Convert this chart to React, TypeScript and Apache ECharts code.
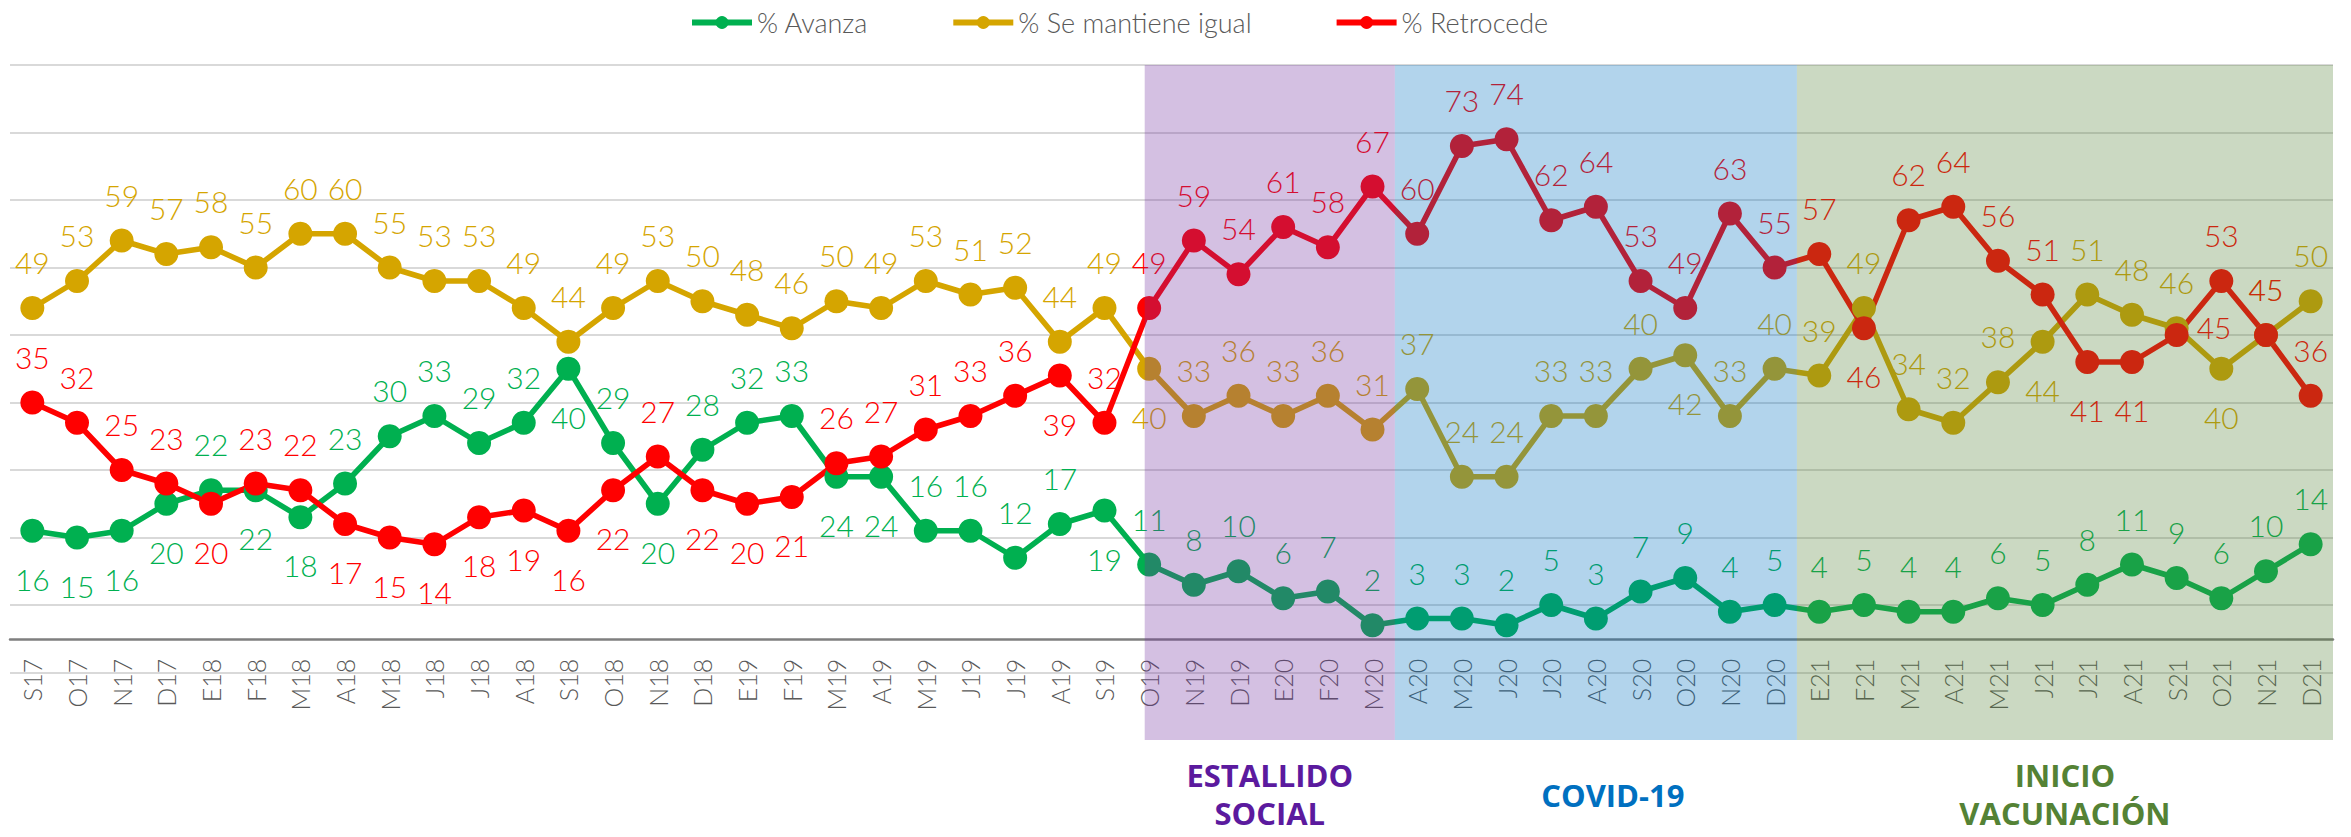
import React, { useEffect, useRef } from 'react';
import * as echarts from 'echarts';

const CATEGORIES = ['S17','O17','N17','D17','E18','F18','M18','A18','M18','J18','J18','A18','S18','O18','N18','D18','E19','F19','M19','A19','M19','J19','J19','A19','S19','O19','N19','D19','E20','F20','M20','A20','M20','J20','J20','A20','S20','O20','N20','D20','E21','F21','M21','A21','M21','J21','J21','A21','S21','O21','N21','D21'];

const AVANZA = [16,15,16,20,22,22,18,23,30,33,29,32,40,29,20,28,32,33,24,24,16,16,12,17,19,11,8,10,6,7,2,3,3,2,5,3,7,9,4,5,4,5,4,4,6,5,8,11,9,6,10,14];
const IGUAL = [49,53,59,57,58,55,60,60,55,53,53,49,44,49,53,50,48,46,50,49,53,51,52,44,49,40,33,36,33,36,31,37,24,24,33,33,40,42,33,40,39,49,34,32,38,44,51,48,46,40,45,50];
const RETROCEDE = [35,32,25,23,20,23,22,17,15,14,18,19,16,22,27,22,20,21,26,27,31,33,36,39,32,49,59,54,61,58,67,60,73,74,62,64,53,49,63,55,57,46,62,64,56,51,41,41,45,53,45,36];

// label placement per point: t = above, b = below, r = right
const AVANZA_LABEL = ('bbbbtbbtttttbtbtttbbttttb' + 'ttttttttttttttttttttttttttt').split('');
const IGUAL_LABEL = 'tttttttttttttttttttttttttbtttttttttttbtttttttbtttbtt'.split('');
const RETROCEDE_LABEL = 'ttttbttbbbbbbbtbbbtttttbtttttttttttttttttbttttbbrttt'.split('');

const SERIES_NAMES = ['% Avanza', '% Se mantiene igual', '% Retrocede'];
const SERIES_COLORS = ['#00B050', '#D5A500', '#FF0000'];

// shaded periods, in category-index units
const PERIODS = [
  { name: 'ESTALLIDO\nSOCIAL', from: 24.9, to: 30.5, color: '#7030A0', text: '#5B1A9E' },
  { name: 'COVID-19', from: 30.5, to: 39.5, color: '#0070C0', text: '#0070C0' },
  { name: 'INICIO\nVACUNACIÓN', from: 39.5, to: 51.5, color: '#548235', text: '#548235' },
];

const Y_MIN = -15;
const Y_MAX = 85;
const FONT = 'Lato, "Open Sans", sans-serif';

function buildData(values: number[], pos: string[]) {
  return values.map((v, i) => {
    const p = pos[i];
    if (p === 'b') return { value: v, label: { position: 'bottom', distance: 21 } };
    if (p === 'r') return { value: v, label: { position: 'right', distance: 8, offset: [0, -8] } };
    return { value: v, label: { position: 'top', distance: 19 } };
  });
}

export default function App() {
  const ref = useRef<HTMLDivElement>(null);
  useEffect(() => {
    if (!ref.current) return;
    const chart = echarts.init(ref.current, undefined, { renderer: 'svg' });
    const W = 2351;
    const H = 837;
    const gridTop = 65;
    const gridBottom = 97;
    const gridH = H - gridTop - gridBottom;
    // put the category axis on the zero line
    const zeroFromBottom = gridH * (0 - Y_MIN) / (Y_MAX - Y_MIN);
    const valuesList = [AVANZA, IGUAL, RETROCEDE];
    const posList = [AVANZA_LABEL, IGUAL_LABEL, RETROCEDE_LABEL];
    const lineSeries = SERIES_NAMES.map((name, k) => ({
      name,
      type: 'line',
      xAxisIndex: 0,
      yAxisIndex: 0,
      z: 2,
      data: buildData(valuesList[k], posList[k]),
      symbol: 'circle',
      symbolSize: 24,
      color: SERIES_COLORS[k],
      lineStyle: { width: 5.5, color: SERIES_COLORS[k] },
      itemStyle: { color: SERIES_COLORS[k] },
      label: {
        show: true,
        color: SERIES_COLORS[k],
        fontSize: 30,
        fontFamily: FONT,
        fontWeight: 300,
      },
      emphasis: { disabled: true },
    }));
    const bandSeries = {
      name: 'periodos',
      type: 'line',
      xAxisIndex: 1,
      yAxisIndex: 0,
      data: [],
      z: 10,
      silent: true,
      markArea: {
        silent: true,
        z: 10,
        data: PERIODS.map((p) => [
          {
            name: p.name,
            xAxis: p.from,
            itemStyle: { color: p.color, opacity: 0.3 },
            label: {
              show: true,
              position: 'bottom',
              distance: p.name.includes('\n') ? 16 : 36,
              offset: p.name === 'COVID-19' ? [17, 0] : [0, 0],
              color: p.text,
              fontSize: 31,
              fontWeight: 'bold',
              fontFamily: '"Open Sans", sans-serif',
              lineHeight: 38,
              align: 'center',
            },
          },
          { xAxis: p.to },
        ]),
      },
    };
    chart.setOption({
      animation: false,
      backgroundColor: '#ffffff',
      legend: {
        data: SERIES_NAMES,
        left: 684,
        top: 4,
        itemWidth: 60,
        itemHeight: 16,
        itemGap: 82,
        textStyle: { color: '#595959', fontSize: 27, fontFamily: FONT, fontWeight: 300 },
        lineStyle: { width: 6 },
      },
      grid: { left: 10, right: W - 2333, top: gridTop, bottom: gridBottom, containLabel: false },
      xAxis: [
        {
          type: 'category',
          data: CATEGORIES,
          boundaryGap: true,
          offset: -zeroFromBottom,
          axisLine: { onZero: false, lineStyle: { color: '#7F7F7F', width: 2.5 } },
          axisTick: { show: false },
          axisLabel: {
            interval: 0,
            rotate: 90,
            margin: 20,
            color: '#595959',
            fontSize: 25,
            fontFamily: FONT,
            fontWeight: 300,
          },
          splitLine: { show: false },
        },
        {
          type: 'value',
          min: -0.5,
          max: 51.5,
          show: false,
          splitLine: { show: false },
        },
      ],
      yAxis: {
        type: 'value',
        min: Y_MIN,
        max: Y_MAX,
        interval: 10,
        axisLabel: { show: false },
        axisLine: { show: false },
        axisTick: { show: false },
        splitLine: { show: true, showMinLine: false, lineStyle: { color: '#D9D9D9', width: 2 } },
      },
      series: [...lineSeries, bandSeries],
    });
    return () => chart.dispose();
  }, []);
  return (
    <div
      ref={ref}
      style={{ position: 'fixed', left: 0, top: 0, width: 2351, height: 837, background: '#fff' }}
    />
  );
}
